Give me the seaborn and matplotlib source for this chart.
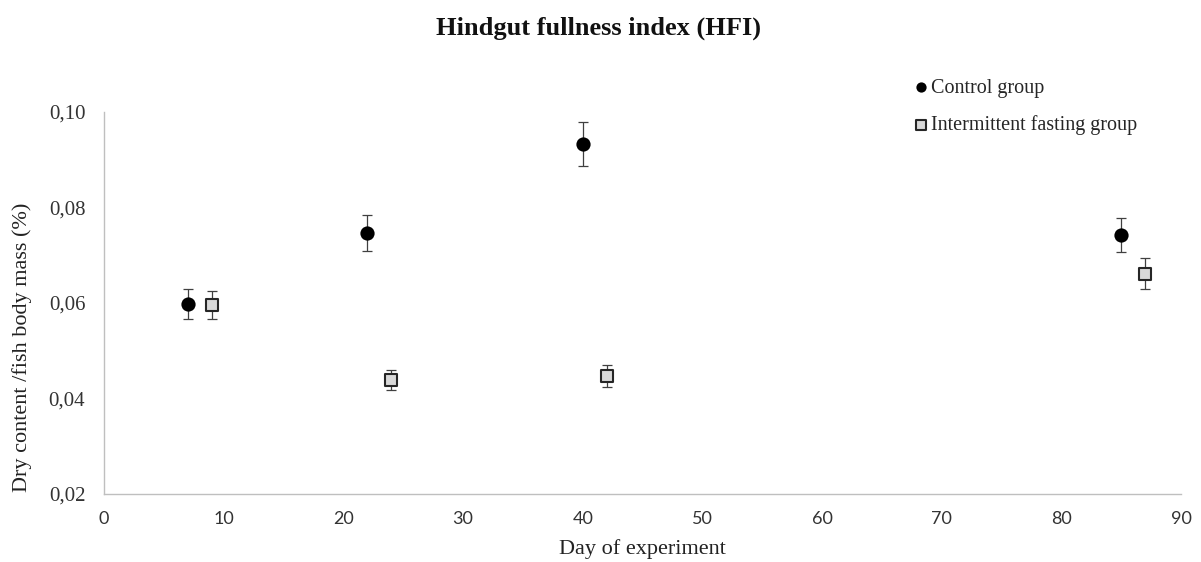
import numpy as np
import pandas as pd
import matplotlib
matplotlib.use("Agg")
import matplotlib.pyplot as plt
import seaborn as sns

# Sampling days and hindgut fullness values per group
control_days = [7, 22, 40, 85]
control_hfi = [0.0598, 0.0746, 0.0933, 0.0742]
control_err = [0.0031, 0.0037, 0.0046, 0.0036]

fasting_days = [9, 24, 42, 87]
fasting_hfi = [0.0596, 0.0439, 0.0447, 0.0661]
fasting_err = [0.0029, 0.0021, 0.0022, 0.0032]

group_names = ["Control group", "Intermittent fasting group"]
x_ticks = [0, 10, 20, 30, 40, 50, 60, 70, 80, 90]
y_ticks = [0.02, 0.04, 0.06, 0.08, 0.10]
y_tick_labels = ["0,02", "0,04", "0,06", "0,08", "0,10"]

df = pd.DataFrame({
    "day": control_days + fasting_days,
    "hfi": control_hfi + fasting_hfi,
    "err": control_err + fasting_err,
    "group": [group_names[0]] * len(control_days) + [group_names[1]] * len(fasting_days),
})

sns.set_theme(style="white")
plt.rcParams["font.family"] = ["Liberation Serif", "DejaVu Serif"]

fig, ax = plt.subplots(figsize=(12.01, 5.62), dpi=100)
fig.subplots_adjust(left=0.0866, right=0.9834, bottom=0.121, top=0.801)

# Error bars first so markers sit on top
for name in group_names:
    sub = df[df["group"] == name]
    ax.errorbar(sub["day"], sub["hfi"], yerr=sub["err"], fmt="none",
                ecolor="#404040", elinewidth=0.9, capsize=3.8, capthick=0.9, zorder=2)

palette = {group_names[0]: "#000000", group_names[1]: "#d9d9d9"}
markers = {group_names[0]: "o", group_names[1]: "s"}
sizes = {group_names[0]: 105, group_names[1]: 82}
edges = {group_names[0]: 0.0, group_names[1]: 1.5}

for name in group_names:
    sns.scatterplot(
        data=df[df["group"] == name], x="day", y="hfi",
        color=palette[name], marker=markers[name], s=sizes[name],
        edgecolor="#262626", linewidth=edges[name], ax=ax, zorder=3, label=name,
    )

ax.set_xlim(0, 90)
ax.set_ylim(0.02, 0.10)
ax.set_xticks(x_ticks)
ax.set_yticks(y_ticks)
ax.set_yticklabels(y_tick_labels)
ax.tick_params(axis="both", length=0, colors="#333333")
ax.tick_params(axis="y", labelsize=15, pad=13.5)
ax.tick_params(axis="x", labelsize=13, pad=12)
for lab in ax.get_xticklabels():
    lab.set_family(["Lato", "DejaVu Sans"])

for side in ["top", "right"]:
    ax.spines[side].set_visible(False)
for side in ["left", "bottom"]:
    ax.spines[side].set_color("#bfbfbf")
    ax.spines[side].set_linewidth(1.0)

ax.set_xlabel("Day of experiment", fontsize=16, color="#222222", labelpad=9)
ax.set_ylabel("Dry content /fish body mass (%)", fontsize=16, color="#222222")
ax.yaxis.set_label_coords(-0.067, 0.383)
fig.suptitle("Hindgut fullness index (HFI)", fontsize=19, fontweight="bold",
             y=0.971, x=0.498, color="#111111")

handles, labels = ax.get_legend_handles_labels()
leg = fig.legend(handles, labels, loc="upper left", bbox_to_anchor=(0.762, 0.86),
                 frameon=False, fontsize=14.5, handlelength=0.6, handletextpad=0.2,
                 labelspacing=0.85, markerscale=0.72, borderaxespad=0, borderpad=0)
if ax.get_legend():
    ax.get_legend().remove()

fig.savefig("out.png", dpi=100)
